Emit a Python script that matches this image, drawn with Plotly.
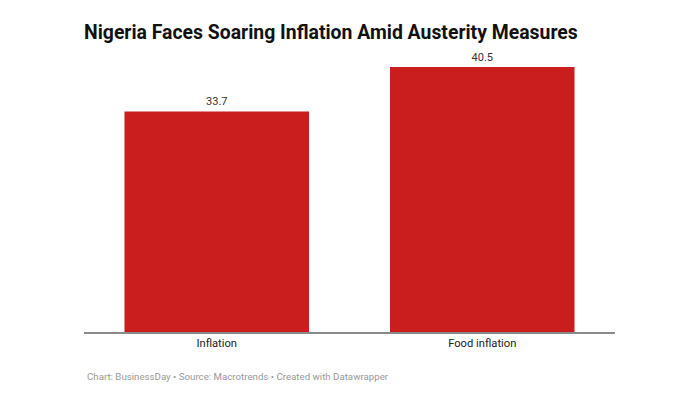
import plotly.graph_objects as go

categories = ["Inflation", "Food inflation"]
values = [33.7, 40.5]
value_labels = ["33.7", "40.5"]

fig = go.Figure(go.Bar(
    x=categories, y=values, text=value_labels,
    textposition="outside", cliponaxis=False,
    textfont=dict(family="Roboto", size=11, color="#333333"),
    marker=dict(color="#c91d1e", line=dict(width=0)),
))

# page body adds an 8px offset; compensate in margins
fig.update_layout(
    width=700, height=400,
    margin=dict(l=75.5, r=92.5, t=59, b=76),
    paper_bgcolor="white", plot_bgcolor="white",
    bargap=0.305,
    showlegend=False,
    title=dict(
        text="<b>Nigeria Faces Soaring Inflation Amid Austerity Measures</b>",
        font=dict(family="Roboto", size=19.4, color="#111111"),
        x=76/700, xanchor="left", xref="container",
        y=1-24/400, yanchor="middle", yref="container",
    ),
    xaxis=dict(
        showline=True, linecolor="#8a8a8a", linewidth=1.5,
        showgrid=False, ticks="",
        tickfont=dict(family="Roboto", size=11.2, color="#222222"),
    ),
    yaxis=dict(range=[0, 40.5], visible=False, showgrid=False, zeroline=False),
    annotations=[dict(
        text="Chart: BusinessDay • Source: Macrotrends • Created with Datawrapper",
        xref="paper", yref="paper", x=0.002, y=(332-376)/265,
        xanchor="left", yanchor="middle", showarrow=False,
        font=dict(family="Roboto", size=9.7, color="#999999"),
    )],
)

fig.write_html("out.html")
